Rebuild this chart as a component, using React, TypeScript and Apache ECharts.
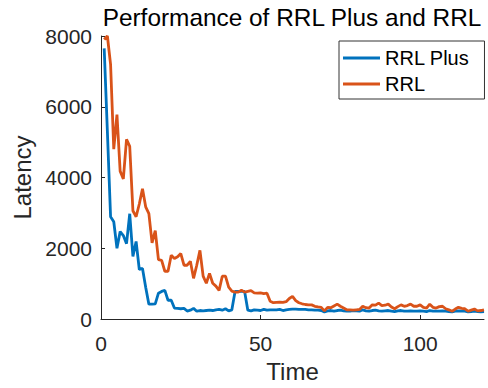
import React, { useEffect, useRef } from "react";
import * as echarts from "echarts";

const times: number[] = Array.from({ length: 120 }, (_, i) => i + 1);

const rrlPlus: number[] = [
  7650, 5300, 2890, 2750, 2000, 2470, 2360, 2130, 2975, 1770,
  2190, 1400, 1430, 900, 420, 420, 430, 730, 780, 810,
  530, 530, 310, 300, 290, 300, 225, 250, 300, 220,
  240, 230, 240, 250, 240, 260, 270, 250, 290, 230,
  260, 780, 780, 780, 780, 250, 230, 260, 250, 240,
  270, 250, 260, 260, 260, 270, 240, 260, 270, 280,
  280, 270, 270, 270, 260, 260, 250, 250, 240, 200,
  230, 240, 220, 240, 250, 230, 220, 220, 240, 230,
  220, 260, 230, 220, 240, 250, 230, 220, 230, 240,
  220, 210, 230, 240, 220, 220, 230, 220, 220, 230,
  220, 210, 240, 220, 220, 220, 230, 220, 210, 200,
  220, 230, 220, 220, 200, 210, 220, 210, 200, 210,
];

const rrl: number[] = [
  7900, 8000, 7200, 4800, 5780, 4180, 3960, 5080, 4880, 3060,
  2890, 3250, 3680, 3170, 2980, 2150, 2500, 1680, 1660, 1350,
  1350, 1800, 1710, 1760, 1850, 1520, 1520, 1630, 1150, 1520,
  1940, 1210, 1010, 1290, 1010, 930, 810, 1210, 1210, 900,
  790, 760, 760, 810, 760, 780, 800, 740, 730, 740,
  720, 730, 500, 460, 470, 480, 470, 490, 580, 640,
  520, 460, 430, 410, 400, 400, 360, 340, 330, 230,
  330, 320, 370, 420, 360, 310, 260, 260, 250, 260,
  270, 360, 320, 310, 400, 390, 450, 380, 390, 420,
  340, 290, 350, 400, 360, 380, 420, 360, 360, 400,
  330, 310, 420, 330, 310, 350, 360, 290, 260, 220,
  280, 330, 300, 290, 220, 250, 280, 230, 240, 260,
];

const seriesNames = ["RRL Plus", "RRL"];
const xTickValues = [0, 50, 100];
const yTickValues = [0, 2000, 4000, 6000, 8000];

const FONT = "'Liberation Sans', Arial, Helvetica, sans-serif";
const AXIS = "#262626";

export default function App() {
  const ref = useRef<HTMLDivElement>(null);
  useEffect(() => {
    if (!ref.current) return;
    const chart = echarts.init(ref.current, undefined, { renderer: "svg" });
    const axisCommon = {
      axisLine: { show: true, lineStyle: { color: AXIS, width: 1 } },
      splitLine: { show: false },
      nameTextStyle: { color: AXIS, fontSize: 24, fontFamily: FONT },
    };
    chart.setOption({
      animation: false,
      backgroundColor: "#ffffff",
      title: {
        text: "Performance of RRL Plus and RRL",
        left: 292,
        textAlign: "center",
        top: 5,
        padding: 0,
        textStyle: { color: "#000", fontSize: 24.4, fontWeight: "normal", fontFamily: FONT },
      },
      grid: { left: 101, right: 4, top: 36, bottom: 67, containLabel: false },
      legend: {
        data: seriesNames,
        orient: "vertical",
        left: 339,
        top: 41,
        icon: "rect",
        itemWidth: 37,
        itemHeight: 3,
        itemGap: 6,
        padding: [7, 15, 5, 4],
        borderColor: "#333",
        borderWidth: 1,
        backgroundColor: "#fff",
        textStyle: { color: "#000", fontSize: 20, fontFamily: FONT },
      },
      xAxis: {
        type: "value",
        min: 0,
        max: 120,
        interval: 50,
        name: "Time",
        nameLocation: "middle",
        nameGap: 40,
        ...axisCommon,
        axisTick: {
          show: true, inside: true, length: 4, lineStyle: { color: AXIS },
          customValues: xTickValues,
        },
        axisLabel: {
          color: AXIS, fontSize: 21, fontFamily: FONT, margin: 14,
          customValues: xTickValues,
          formatter: (v: number) => String(v),
        },
      },
      yAxis: {
        type: "value",
        min: 0,
        max: 8000,
        interval: 2000,
        name: "Latency",
        nameLocation: "middle",
        nameGap: 53,
        ...axisCommon,
        axisTick: {
          show: true, inside: true, length: 4, lineStyle: { color: AXIS },
          customValues: yTickValues,
        },
        axisLabel: {
          color: AXIS, fontSize: 21, fontFamily: FONT, margin: 9,
          customValues: yTickValues,
          formatter: (v: number) => String(v),
        },
      },
      series: [
        {
          name: seriesNames[0],
          type: "line",
          data: times.map((t, i) => [t, rrlPlus[i]]),
          showSymbol: false,
          symbol: "none",
          lineStyle: { color: "#0072BD", width: 2.8 },
          itemStyle: { color: "#0072BD" },
          clip: true,
        },
        {
          name: seriesNames[1],
          type: "line",
          data: times.map((t, i) => [t, rrl[i]]),
          showSymbol: false,
          symbol: "none",
          lineStyle: { color: "#D95319", width: 2.8 },
          itemStyle: { color: "#D95319" },
          clip: true,
        },
      ],
    });
    return () => chart.dispose();
  }, []);
  return (
    <div
      ref={ref}
      style={{ position: "fixed", left: 0, top: 0, width: 488, height: 388, background: "#fff" }}
    />
  );
}
